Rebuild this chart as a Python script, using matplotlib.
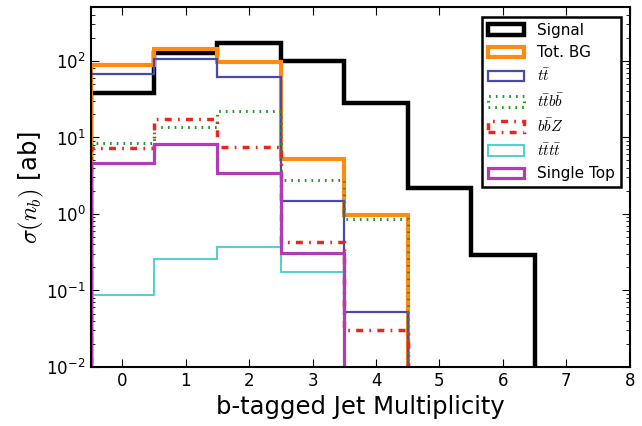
import numpy as np
import matplotlib
matplotlib.use("Agg")
import matplotlib.pyplot as plt

plt.rcParams["font.family"] = ["DejaVu Sans"]
plt.rcParams["mathtext.fontset"] = "cm"

# b-tag multiplicity bins
n_b = [0, 1, 2, 3, 4, 5, 6, 7]
bin_edges = np.arange(-0.5, 8.0, 1.0)

# cross sections per bin [ab]
signal     = [37.8, 128, 174, 100, 28, 2.2, 0.29, 0]
tot_bg     = [88.7, 142, 97, 5.2, 0.97, 0, 0, 0]
ttbar      = [67.6, 107, 62, 1.49, 0.052, 0, 0, 0]
ttbb       = [8.4, 13.7, 22.4, 2.8, 0.86, 0, 0, 0]
bbz        = [7.2, 17.3, 7.4, 0.43, 0.030, 0, 0, 0]
tttt       = [0.087, 0.26, 0.37, 0.176, 0, 0, 0, 0]
single_top = [4.7, 8.1, 3.4, 0.31, 0, 0, 0, 0]

series = [
    (signal,     "Signal",               "black",   "-",                    3.2),
    (tot_bg,     "Tot. BG",              "#ff8c10", "-",                    3.0),
    (ttbar,      r"$t\bar{t}$",          "#4a4aae", "-",                    1.6),
    (ttbb,       r"$t\bar{t}b\bar{b}$",  "#2a962a", (0, (0.55, 1.65)),      2.2),
    (bbz,        r"$b\bar{b}Z$",         "#e8281e", (0, (2, 1.8, 0.5, 1.8)), 2.5),
    (tttt,       r"$t\bar{t}t\bar{t}$",  "#4fd0d0", "-",                    1.4),
    (single_top, "Single Top",           "#b13cb5", "-",                    2.3),
]

fig = plt.figure(figsize=(6.42, 4.26), dpi=100)
ax = fig.add_axes([0.141, 0.1385, 0.840, 0.844])

for vals, label, color, ls, lw in series:
    ax.hist(n_b, bins=bin_edges, weights=vals, histtype="step",
            color=color, linestyle=ls, linewidth=lw, label=label)

ax.set_yscale("log")
ax.set_xlim(-0.5, 8)
ax.set_ylim(1e-2, 500)
ax.set_xticks(range(0, 9))

ax.tick_params(which="both", direction="in", top=True, right=True,
               labelsize=12)
ax.tick_params(which="major", length=6)
ax.tick_params(which="minor", length=3)
for sp in ax.spines.values():
    sp.set_linewidth(1.5)

ax.set_xlabel("b-tagged Jet Multiplicity", fontsize=17.5)
ax.set_ylabel(r"$\sigma(n_b)$ [ab]", fontsize=17.5, labelpad=0)

leg = ax.legend(loc="upper right", fontsize=11, handlelength=2.4,
                fancybox=False, framealpha=1, edgecolor="black",
                borderaxespad=0.6)
leg.get_frame().set_linewidth(1.8)

fig.savefig("out.png", dpi=100)
